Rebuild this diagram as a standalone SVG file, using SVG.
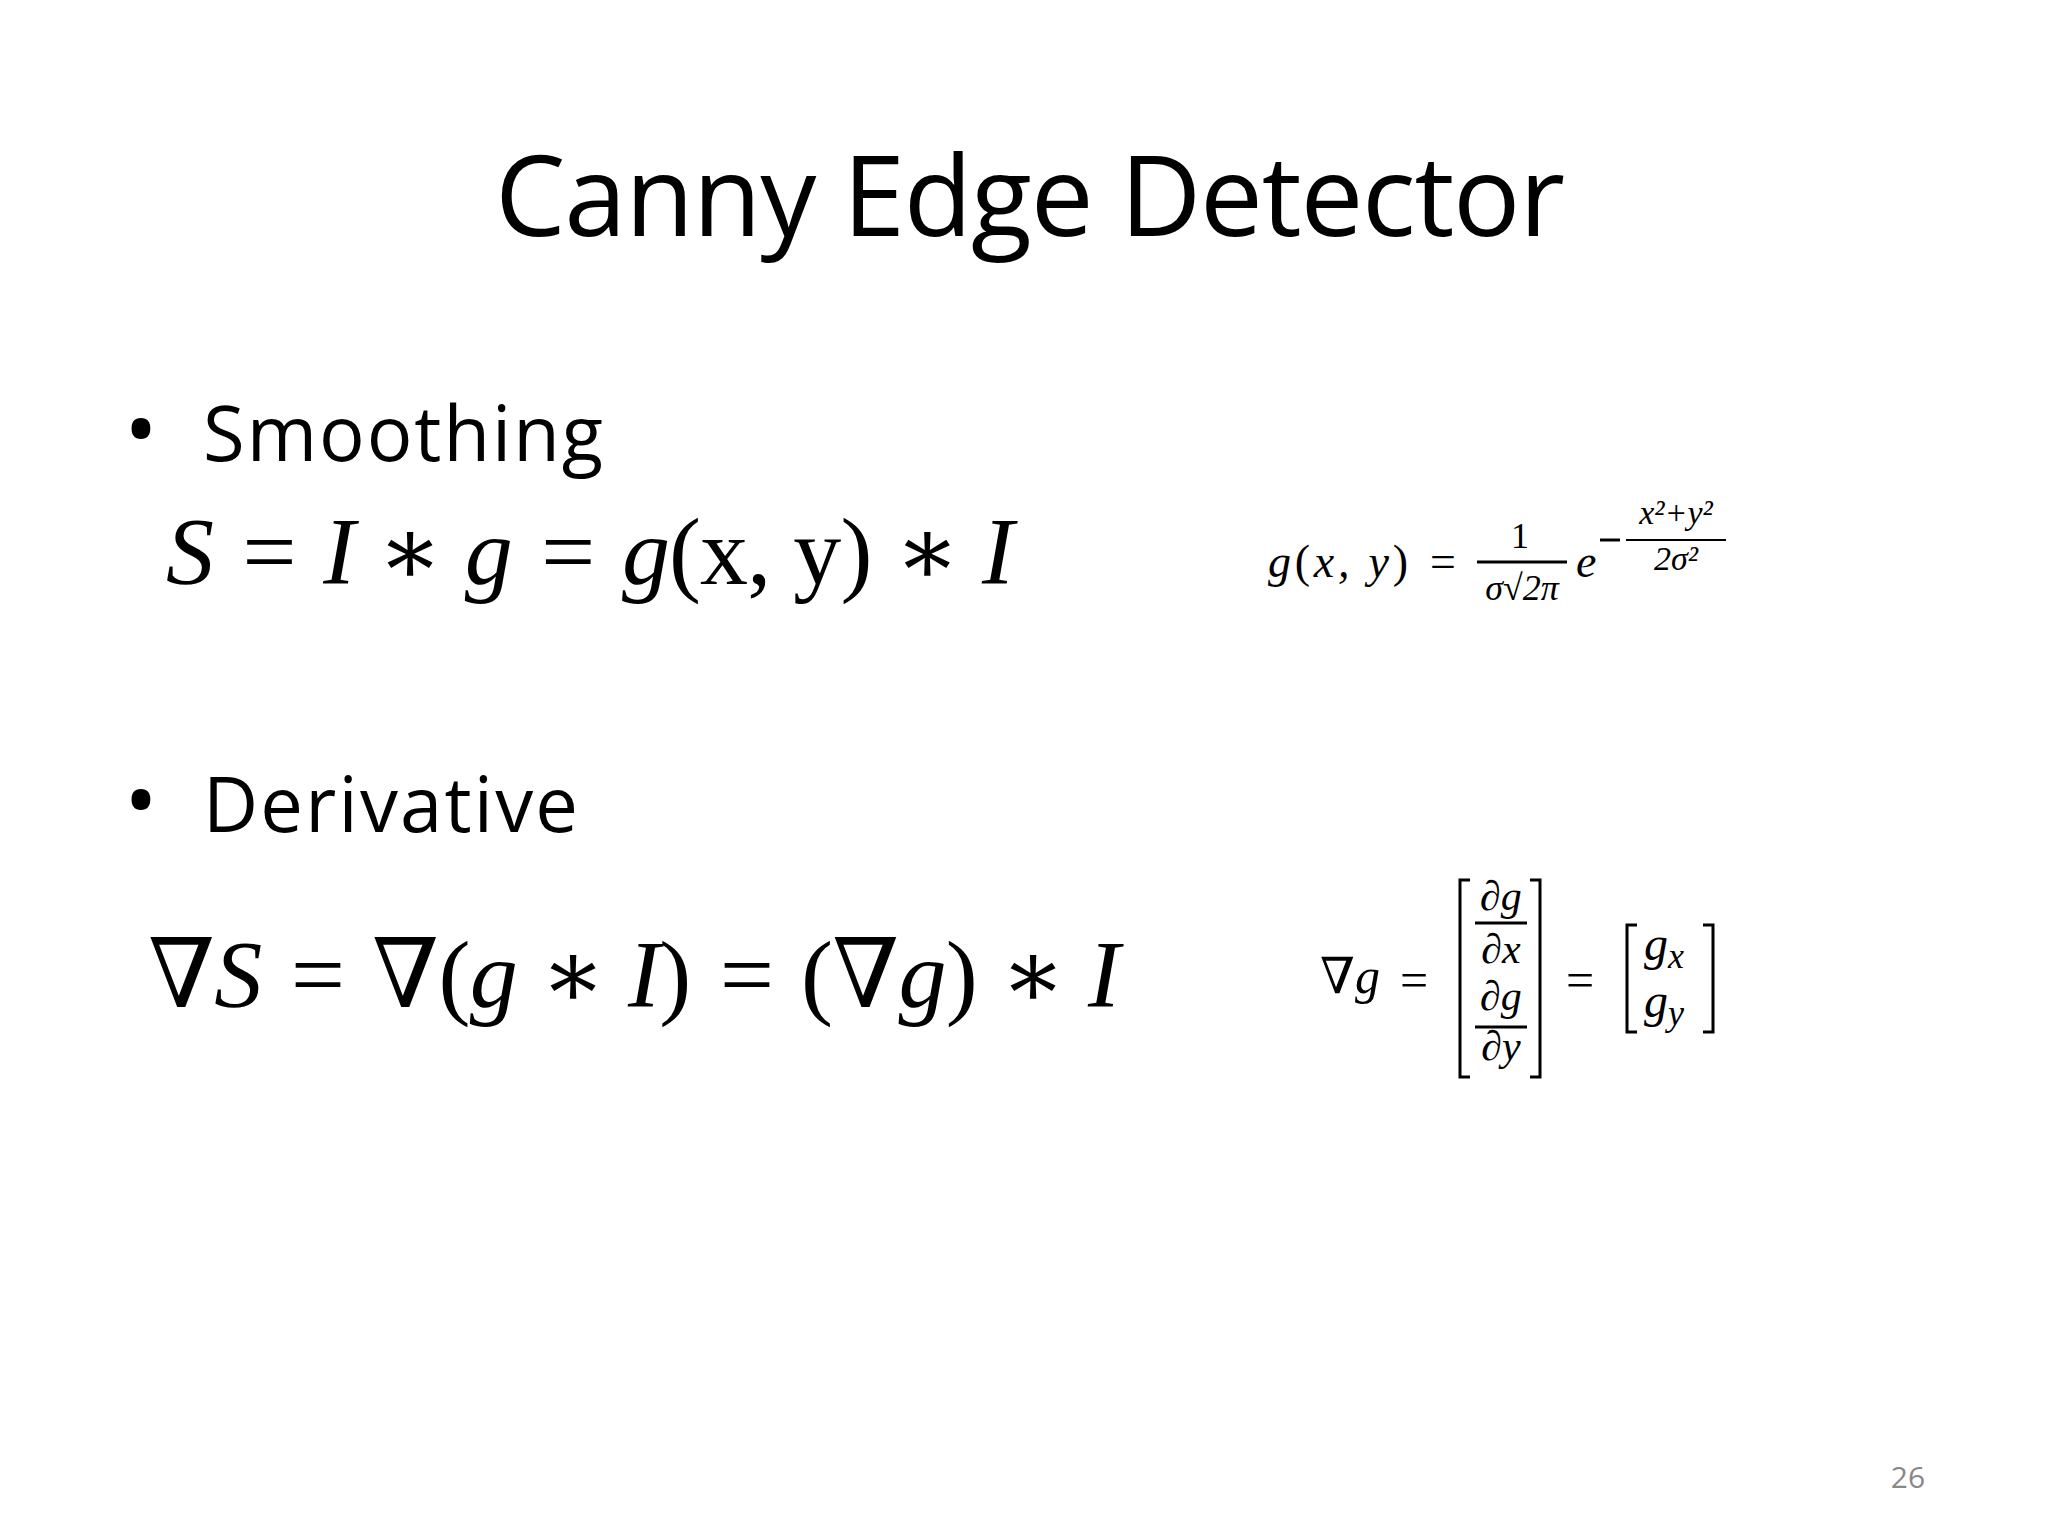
<svg xmlns="http://www.w3.org/2000/svg" width="2048" height="1536" viewBox="0 0 2048 1536">
<style>
.s{font-family:"Open Sans","Liberation Sans",sans-serif;fill:#000}
.m{font-family:"Liberation Serif","DejaVu Serif",serif;font-style:italic;fill:#000}
.r{font-family:"Liberation Serif","DejaVu Serif",serif;font-style:normal;fill:#000}
.l{stroke:#000;stroke-width:3;fill:none}
</style>
<rect width="2048" height="1536" fill="#fff"/>
<g id="title"><text class="s" x="1030" y="236" font-size="112" text-anchor="middle" textLength="1070" lengthAdjust="spacing">Canny Edge Detector</text></g>
<g id="bullet1"><text class="s" x="124" y="461" font-size="90">•</text><text class="s" x="203" y="461" font-size="76" textLength="400">Smoothing</text></g>
<g id="eq1"><text class="m" x="166" y="584" font-size="96" textLength="848">S = I ∗ g = g<tspan class="r">(x, y)</tspan> ∗ I</text></g>
<g id="gauss">
<text class="m" x="1268" y="577" font-size="46" textLength="190">g<tspan class="r">(</tspan>x, y<tspan class="r">)</tspan> =</text>
<text class="r" x="1520" y="548" font-size="36" text-anchor="middle">1</text>
<line class="l" x1="1477" y1="562" x2="1567" y2="562"/>
<text class="m" x="1522" y="600" font-size="36" text-anchor="middle">σ√2π</text>
<text class="m" x="1576" y="577" font-size="46">e</text>
<line class="l" x1="1600" y1="540" x2="1620" y2="540"/>
<text class="m" x="1676" y="524" font-size="34" text-anchor="middle">x²+y²</text>
<line x1="1626" y1="540" x2="1726" y2="540" stroke="#000" stroke-width="2"/>
<text class="m" x="1676" y="570" font-size="34" text-anchor="middle">2σ²</text>
</g>
<g id="bullet2"><text class="s" x="124" y="832" font-size="90">•</text><text class="s" x="203" y="832" font-size="76" textLength="375">Derivative</text></g>
<g id="eq2"><text class="m" x="148" y="1007" font-size="96" textLength="972">∇S = ∇<tspan class="r">(</tspan>g ∗ I<tspan class="r">)</tspan> = <tspan class="r">(</tspan>∇g<tspan class="r">)</tspan> ∗ I</text></g>
<g id="grad">
<text class="m" x="1320" y="993" font-size="50">∇g</text>
<text class="r" x="1400" y="997" font-size="50">=</text>
<path class="l" d="M1470,880 H1460 V1077 H1470 M1530,880 H1540 V1077 H1530"/>
<text class="m" x="1501" y="910" font-size="42" text-anchor="middle">∂g</text>
<line class="l" x1="1475" y1="923" x2="1527" y2="923"/>
<text class="m" x="1501" y="963" font-size="42" text-anchor="middle">∂x</text>
<text class="m" x="1501" y="1010" font-size="42" text-anchor="middle">∂g</text>
<line class="l" x1="1475" y1="1027" x2="1527" y2="1027"/>
<text class="m" x="1501" y="1060" font-size="42" text-anchor="middle">∂y</text>
<text class="r" x="1566" y="997" font-size="50">=</text>
<path class="l" d="M1637,925 H1627 V1032 H1637 M1703,925 H1713 V1032 H1703"/>
<text class="m" x="1644" y="960" font-size="48">g<tspan font-size="36" dy="8">x</tspan></text>
<text class="m" x="1644" y="1017" font-size="48">g<tspan font-size="36" dy="8">y</tspan></text>
</g>
<g id="page"><text class="s" x="1908" y="1488" font-size="30" style="fill:#888" text-anchor="middle">26</text></g>
</svg>
